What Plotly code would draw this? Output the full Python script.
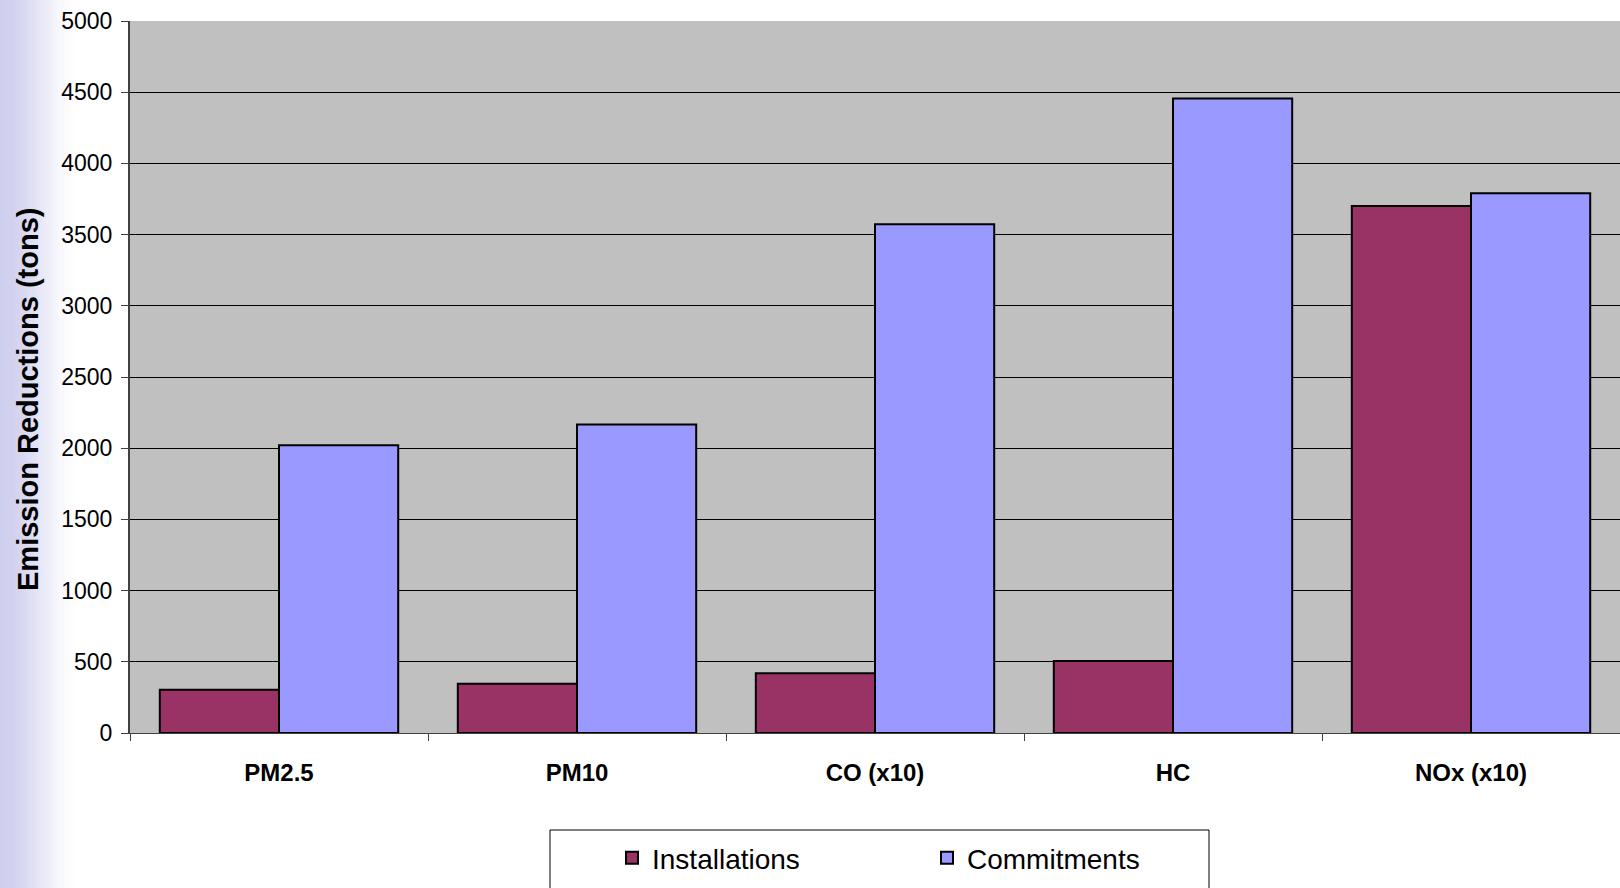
import plotly.graph_objects as go

# Emission reductions by pollutant (tons)
pollutants = ["PM2.5", "PM10", "CO (x10)", "HC", "NOx (x10)"]
installations = [304, 346, 419, 506, 3700]
commitments = [2021, 2166, 3572, 4455, 3791]
y_ticks = [0, 500, 1000, 1500, 2000, 2500, 3000, 3500, 4000, 4500, 5000]

W, H = 1620, 888
L, R, T, B = 130, 0, 21, 155
PW = W - L - R
PH = H - T - B


def px_x(px):
    return (px - L) / PW


def px_y(py):
    return (H - B - py) / PH


fig = go.Figure()
fig.add_trace(go.Bar(
    name="Installations", x=pollutants, y=installations,
    marker=dict(color="#993366", line=dict(color="black", width=2)),
))
fig.add_trace(go.Bar(
    name="Commitments", x=pollutants, y=commitments,
    marker=dict(color="#9999ff", line=dict(color="black", width=2)),
))

# lavender fade along the left edge of the page
shapes = []
n = 40
x0, x1 = 0, 80
c0 = (206, 206, 238)
for i in range(n):
    a = i / n
    b = (i + 1) / n
    t = (a + b) / 2
    f = t * t * (3 - 2 * t)
    col = tuple(int(round(c0[k] + (255 - c0[k]) * f)) for k in range(3))
    shapes.append(dict(
        type="rect", xref="paper", yref="paper", layer="below",
        x0=px_x(x0 + (x1 - x0) * a), x1=px_x(x0 + (x1 - x0) * b + 0.5),
        y0=px_y(H + 10), y1=px_y(-10),
        fillcolor="rgb(%d,%d,%d)" % col, line=dict(width=0),
    ))

# legend frame
shapes.append(dict(
    type="rect", xref="paper", yref="paper",
    x0=px_x(550), x1=px_x(1209), y0=px_y(H + 20), y1=px_y(830),
    line=dict(color="black", width=1), fillcolor="rgba(0,0,0,0)",
))

fig.update_layout(
    width=W, height=H,
    margin=dict(l=L, r=R, t=T, b=B),
    paper_bgcolor="white",
    plot_bgcolor="#c0c0c0",
    barmode="group",
    bargap=0.2,
    bargroupgap=0,
    font=dict(family="Liberation Sans, Arial, sans-serif", color="black"),
    shapes=shapes,
    showlegend=True,
    legend=dict(
        orientation="h",
        x=px_x(612), xanchor="left",
        y=px_y(858), yanchor="middle",
        font=dict(size=28, color="black"),
        bgcolor="rgba(0,0,0,0)",
        entrywidth=270, entrywidthmode="pixels",
        traceorder="normal",
    ),
    annotations=[dict(
        text="<b>Emission Reductions (tons)</b>",
        xref="paper", yref="paper",
        x=px_x(28), y=px_y(400),
        textangle=-90, showarrow=False,
        font=dict(size=29, color="black"),
        xanchor="center", yanchor="middle",
    )],
)

fig.update_xaxes(
    showline=True, linecolor="#404040", linewidth=1,
    ticks="outside", tickson="boundaries", ticklen=7, tickcolor="#404040",
    tickfont=dict(size=24, family="Liberation Sans, Arial, sans-serif", weight="bold"),
    ticklabelstandoff=18,
    showgrid=False,
)
fig.update_yaxes(
    range=[0, 5000],
    tickvals=y_ticks,
    showline=True, linecolor="#404040", linewidth=2,
    ticks="outside", ticklen=7, tickcolor="#404040",
    tickfont=dict(size=23),
    ticklabelstandoff=4,
    showgrid=True, gridcolor="black", gridwidth=1,
    zeroline=False,
)

fig.write_html("out.html")
